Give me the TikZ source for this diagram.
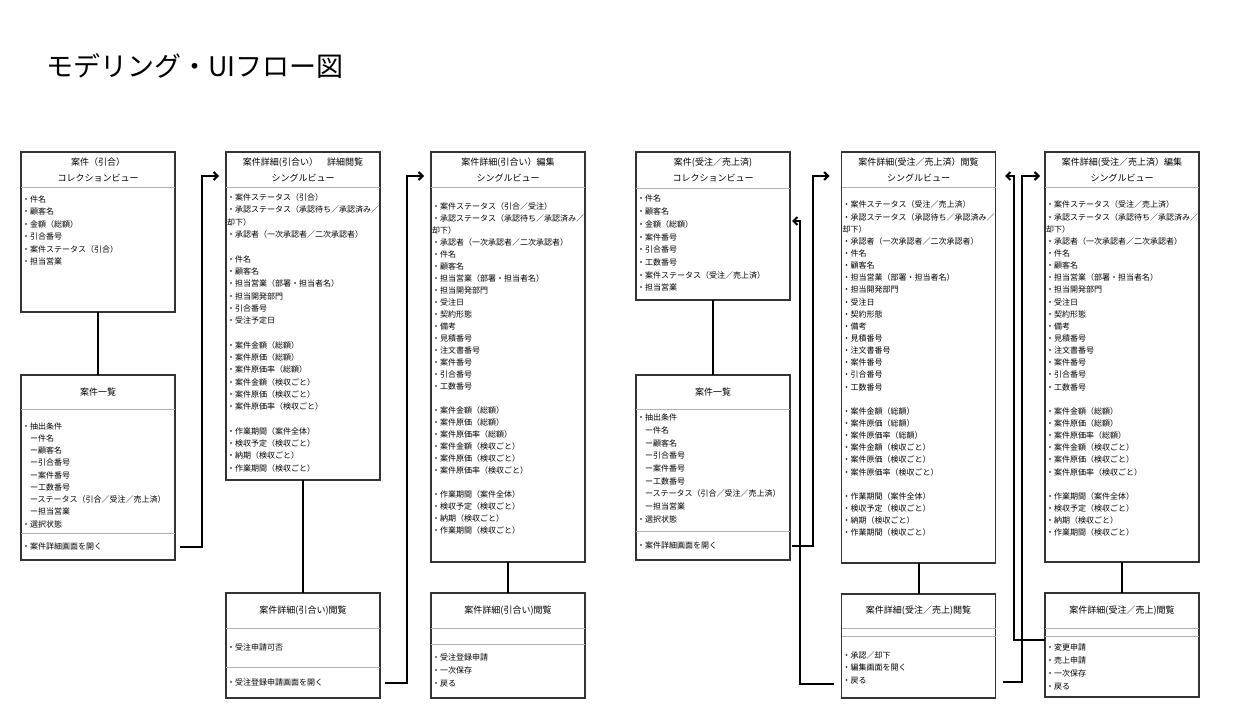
\documentclass[tikz,border=0pt]{standalone}
\usepackage{fontspec}
\setmainfont{Noto Sans CJK JP}
\usetikzlibrary{calc}
\usetikzlibrary{positioning,arrows.meta}

\begin{document}
\begin{tikzpicture}[x=1pt, y=-1pt, >={Straight Barb[length=4pt,width=8pt]}, every node/.style={inner sep=0pt, outer sep=0pt}]
  % panels: a title row, item rows, thin grey dividers
  \tikzset{panel/.style={draw=black!80, line width=1.3pt, anchor=north west, minimum width=154pt},
    head/.style={minimum width=154pt, align=center, font=\fontsize{9}{16}\selectfont},
    list/.style={anchor=base west, text width=152pt, align=left, font=\fontsize{8}{#1}\selectfont},
    foot/.style={text width=152pt, inner xsep=1pt, align=left, font=\fontsize{8}{12}\selectfont},
    divider/.style={draw=black!30, line width=0.7pt},
    link/.style={line width=2pt},
    flow/.style={line width=2pt, ->}}
  \fill[white] (0,0) rectangle (1250,727);
  \node[anchor=base west, font=\fontsize{27}{27}\selectfont] (title) at (46,77) {モデリング・UIフロー図};

  % inquiry: collection view and list
  \node[panel, minimum height=160pt] (inqCol) at (21,152) {};
  \node[head, minimum height=35.7pt, below=0pt of inqCol.north] (inqColHead) {案件（引合）\\コレクションビュー};
  \draw[divider] (inqColHead.south west) -- (inqColHead.south east);
  \node[list=12.5] (inqColBody) at ($(inqColHead.south west)+(1,14.6)$) {・件名\\・顧客名\\・金額（総額）\\・引合番号\\・案件ステータス（引合）\\・担当営業};

  \node[panel, minimum height=185pt] (inqList) at (21,375) {};
  \node[head, minimum height=34pt, below=0pt of inqList.north] (inqListHead) {案件一覧};
  \node[foot, minimum height=27pt, above=0pt of inqList.south] (inqListFoot) {・案件詳細画面を開く};
  \draw[divider] (inqListHead.south west) -- (inqListHead.south east);
  \draw[divider] (inqListFoot.north west) -- (inqListFoot.north east);
  \node[list=12.25] (inqListBody) at ($(inqListHead.south west)+(1,20)$) {・抽出条件\\　ー件名\\　ー顧客名\\　ー引合番号\\　ー案件番号\\　ー工数番号\\　ーステータス（引合／受注／売上済）\\　ー担当営業\\・選択状態};

  % inquiry: detail view
  \node[panel, minimum height=328pt] (inqView) at (226,152) {};
  \node[head, minimum height=35pt, below=0pt of inqView.north] (inqViewHead) {案件詳細(引合い）　詳細閲覧\\シングルビュー};
  \draw[divider] (inqViewHead.south west) -- (inqViewHead.south east);
  \node[list=12.3] (inqViewBody) at ($(inqViewHead.south west)+(1,13.7)$) {・案件ステータス（引合）\\
    ・承認ステータス（承認待ち／承認済み／\\
    却下）\\
    ・承認者（一次承認者／二次承認者）\\
    ~\\
    ・件名\\・顧客名\\・担当営業（部署・担当者名）\\・担当開発部門\\・引合番号\\・受注予定日\\
    ~\\
    ・案件金額（総額）\\・案件原価（総額）\\・案件原価率（総額）\\・案件金額（検収ごと）\\・案件原価（検収ごと）\\・案件原価率（検収ごと）\\
    ~\\
    ・作業期間（案件全体）\\・検収予定（検収ごと）\\・納期（検収ごと）\\・作業期間（検収ごと）};

  \node[panel, minimum height=105pt] (inqViewMenu) at (226,593) {};
  \node[head, minimum height=35pt, below=0pt of inqViewMenu.north] (inqViewMenuHead) {案件詳細(引合い)閲覧};
  \node[foot, minimum height=39pt, below=0pt of inqViewMenuHead] (inqViewMenuBody) {・受注申請可否};
  \node[foot, minimum height=31pt, below=0pt of inqViewMenuBody] (inqViewMenuFoot) {・受注登録申請画面を開く};
  \draw[divider] (inqViewMenuHead.south west) -- (inqViewMenuHead.south east);
  \draw[divider] (inqViewMenuFoot.north west) -- (inqViewMenuFoot.north east);

  % inquiry: edit view
  \node[panel, minimum height=410pt] (inqEdit) at (431,152) {};
  \node[head, minimum height=35pt, below=0pt of inqEdit.north] (inqEditHead) {案件詳細(引合い）編集\\シングルビュー};
  \draw[divider] (inqEditHead.south west) -- (inqEditHead.south east);
  \node[list=12.0] (inqEditBody) at ($(inqEditHead.south west)+(1,22.7)$) {・案件ステータス（引合／受注）\\
    ・承認ステータス（承認待ち／承認済み／\\
    却下）\\
    ・承認者（一次承認者／二次承認者）\\
    ・件名\\・顧客名\\・担当営業（部署・担当者名）\\・担当開発部門\\・受注日\\・契約形態\\・備考\\・見積番号\\・注文書番号\\・案件番号\\・引合番号\\・工数番号\\
    ~\\
    ・案件金額（総額）\\・案件原価（総額）\\・案件原価率（総額）\\・案件金額（検収ごと）\\・案件原価（検収ごと）\\・案件原価率（検収ごと）\\
    ~\\
    ・作業期間（案件全体）\\・検収予定（検収ごと）\\・納期（検収ごと）\\・作業期間（検収ごと）};

  \node[panel, minimum height=105pt] (inqEditMenu) at (431,593) {};
  \node[head, minimum height=35pt, below=0pt of inqEditMenu.north] (inqEditMenuHead) {案件詳細(引合い)閲覧};
  \node[foot, minimum height=16pt, below=0pt of inqEditMenuHead] (inqEditMenuGap) {};
  \draw[divider] (inqEditMenuHead.south west) -- (inqEditMenuHead.south east);
  \draw[divider] (inqEditMenuGap.south west) -- (inqEditMenuGap.south east);
  \node[list=12.8] (inqEditMenuBody) at ($(inqEditMenuGap.south west)+(1,16.7)$) {・受注登録申請\\・一次保存\\・戻る};

  % order / sales: collection view and list
  \node[panel, minimum height=148pt] (ordCol) at (636,152) {};
  \node[head, minimum height=36pt, below=0pt of ordCol.north] (ordColHead) {案件(受注／売上済)\\コレクションビュー};
  \draw[divider] (ordColHead.south west) -- (ordColHead.south east);
  \node[list=12.67] (ordColBody) at ($(ordColHead.south west)+(1,14)$) {・件名\\・顧客名\\・金額（総額）\\・案件番号\\・引合番号\\・工数番号\\・案件ステータス（受注／売上済）\\・担当営業};

  \node[panel, minimum height=185pt] (ordList) at (636,375) {};
  \node[head, minimum height=34pt, below=0pt of ordList.north] (ordListHead) {案件一覧};
  \node[foot, minimum height=29pt, above=0pt of ordList.south] (ordListFoot) {・案件詳細画面を開く};
  \draw[divider] (ordListHead.south west) -- (ordListHead.south east);
  \draw[divider] (ordListFoot.north west) -- (ordListFoot.north east);
  \node[list=12.7] (ordListBody) at ($(ordListHead.south west)+(1,11.7)$) {・抽出条件\\　ー件名\\　ー顧客名\\　ー引合番号\\　ー案件番号\\　ー工数番号\\　ーステータス（引合／受注／売上済）\\　ー担当営業\\・選択状態};

  % order / sales: detail view
  \node[panel, minimum height=411pt] (ordView) at (841.5,152) {};
  \node[head, minimum height=35pt, below=0pt of ordView.north] (ordViewHead) {案件詳細(受注／売上済）閲覧\\シングルビュー};
  \draw[divider] (ordViewHead.south west) -- (ordViewHead.south east);
  \node[list=12.14] (ordViewBody) at ($(ordViewHead.south west)+(1,21)$) {・案件ステータス（受注／売上済）\\
    ・承認ステータス（承認待ち／承認済み／\\
    却下）\\
    ・承認者（一次承認者／二次承認者）\\
    ・件名\\・顧客名\\・担当営業（部署・担当者名）\\・担当開発部門\\・受注日\\・契約形態\\・備考\\・見積番号\\・注文書番号\\・案件番号\\・引合番号\\・工数番号\\
    ~\\
    ・案件金額（総額）\\・案件原価（総額）\\・案件原価率（総額）\\・案件金額（検収ごと）\\・案件原価（検収ごと）\\・案件原価率（検収ごと）\\
    ~\\
    ・作業期間（案件全体）\\・検収予定（検収ごと）\\・納期（検収ごと）\\・作業期間（検収ごと）};

  \node[panel, minimum height=104pt] (ordViewMenu) at (841.5,594) {};
  \node[head, minimum height=34pt, below=0pt of ordViewMenu.north] (ordViewMenuHead) {案件詳細(受注／売上)閲覧};
  \node[foot, minimum height=8pt, below=0pt of ordViewMenuHead] (ordViewMenuGap) {};
  \draw[divider] (ordViewMenuHead.south west) -- (ordViewMenuHead.south east);
  \draw[divider] (ordViewMenuGap.south west) -- (ordViewMenuGap.south east);
  \node[list=12.5] (ordViewMenuBody) at ($(ordViewMenuGap.south west)+(1,22)$) {・承認／却下\\・編集画面を開く\\・戻る};

  % order / sales: edit view
  \node[panel, minimum height=410pt] (ordEdit) at (1045,152) {};
  \node[head, minimum height=35pt, below=0pt of ordEdit.north] (ordEditHead) {案件詳細(受注／売上済）編集\\シングルビュー};
  \draw[divider] (ordEditHead.south west) -- (ordEditHead.south east);
  \node[list=12.14] (ordEditBody) at ($(ordEditHead.south west)+(1,21)$) {・案件ステータス（受注／売上済）\\
    ・承認ステータス（承認待ち／承認済み／\\
    却下）\\
    ・承認者（一次承認者／二次承認者）\\
    ・件名\\・顧客名\\・担当営業（部署・担当者名）\\・担当開発部門\\・受注日\\・契約形態\\・備考\\・見積番号\\・注文書番号\\・案件番号\\・引合番号\\・工数番号\\
    ~\\
    ・案件金額（総額）\\・案件原価（総額）\\・案件原価率（総額）\\・案件金額（検収ごと）\\・案件原価（検収ごと）\\・案件原価率（検収ごと）\\
    ~\\
    ・作業期間（案件全体）\\・検収予定（検収ごと）\\・納期（検収ごと）\\・作業期間（検収ごと）};

  \node[panel, minimum height=104pt] (ordEditMenu) at (1045,593) {};
  \node[head, minimum height=35pt, below=0pt of ordEditMenu.north] (ordEditMenuHead) {案件詳細(受注／売上)閲覧};
  \node[foot, minimum height=8pt, below=0pt of ordEditMenuHead] (ordEditMenuGap) {};
  \draw[divider] (ordEditMenuHead.south west) -- (ordEditMenuHead.south east);
  \draw[divider] (ordEditMenuGap.south west) -- (ordEditMenuGap.south east);
  \node[list=12.8] (ordEditMenuBody) at ($(ordEditMenuGap.south west)+(1,14.7)$) {・変更申請\\・売上申請\\・一次保存\\・戻る};

  % connectors
  \draw[link] (inqCol.south) -- (inqList.north);
  \draw[flow] ($(inqListFoot.east)+(5,0)$) -| ($(inqView.north west)+(-24,24)$) -- ($(inqView.north west)+(-7,24)$);
  \draw[link] (inqView.south) -- (inqViewMenu.north);
  \draw[flow] ($(inqViewMenuFoot.east)+(5,0)$) -| ($(inqEdit.north west)+(-24,24)$) -- ($(inqEdit.north west)+(-7,24)$);
  \draw[link] (inqEdit.south) -- (inqEditMenu.north);

  \draw[link] (ordCol.south) -- (ordList.north);
  \draw[flow] ($(ordListFoot.east)+(2,0)$) -| ($(ordView.north west)+(-29,24)$) -- ($(ordView.north west)+(-12,24)$);
  \draw[flow] ($(ordViewMenu.south west)+(-8,-14)$) -| ($(ordCol.north east)+(10,69)$) -- ($(ordCol.north east)+(2,69)$);
  \draw[link] (ordView.south) -- (ordViewMenu.north);
  \draw[flow] ($(ordViewMenu.south east)+(7,-16)$) -| ($(ordEdit.north west)+(-23,24)$) -- ($(ordEdit.north west)+(-5,24)$);
  \draw[flow] ($(ordEditMenu.north west)+(0,47)$) -| ($(ordView.north east)+(18.5,24)$) -- ($(ordView.north east)+(9.5,24)$);
  \draw[link] (ordEdit.south) -- (ordEditMenu.north);
\end{tikzpicture}
\end{document}
